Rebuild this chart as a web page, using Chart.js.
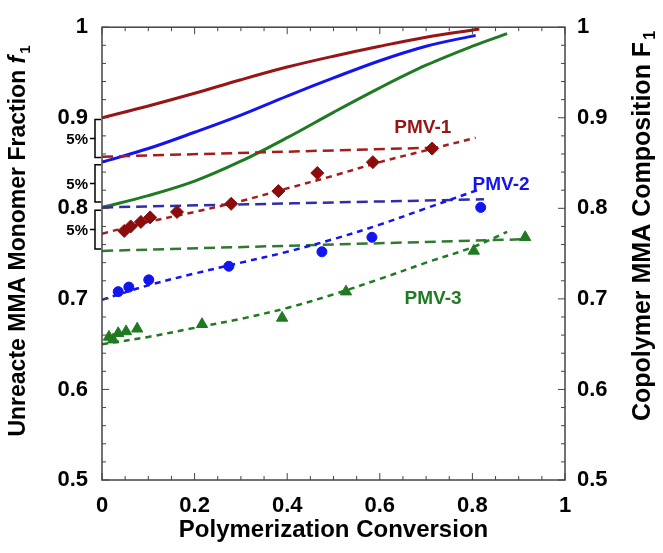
<!DOCTYPE html>
<html>
<head>
<meta charset="utf-8">
<script src="https://cdn.jsdelivr.net/npm/chart.js@4.4.0/dist/chart.umd.min.js"></script>
<style>
    body { margin: 0; background: #fff; }
    canvas { display: block; }
</style>
</head>
<body>
<canvas id="myChart" width="663" height="553"></canvas>
<script>
// tick labels
var xTickValues = [0, 0.2, 0.4, 0.6, 0.8, 1];
var xTickLabels = ['0', '0.2', '0.4', '0.6', '0.8', '1'];
var yTickValues = [0.5, 0.6, 0.7, 0.8, 0.9, 1];
var yTickLabels = ['0.5', '0.6', '0.7', '0.8', '0.9', '1'];

// PMV-1 (dark red)
var pmv1CurveX = [0, 0.1, 0.2, 0.3, 0.4, 0.5, 0.6, 0.7, 0.815];
var pmv1CurveY = [0.9, 0.913, 0.927, 0.942, 0.956, 0.968, 0.979, 0.989, 0.998];
var pmv1RefX = [0, 0.72];
var pmv1RefY = [0.857, 0.867];
var pmv1FitX = [0, 0.1, 0.2, 0.3, 0.4, 0.5, 0.6, 0.7, 0.807];
var pmv1FitY = [0.772, 0.785, 0.796, 0.808, 0.822, 0.836, 0.851, 0.864, 0.878];
var pmv1DataX = [0.048, 0.062, 0.084, 0.104, 0.162, 0.279, 0.381, 0.465, 0.585, 0.713];
var pmv1DataY = [0.775, 0.780, 0.785, 0.790, 0.796, 0.805, 0.819, 0.839, 0.851, 0.866];

// PMV-2 (blue)
var pmv2CurveX = [0, 0.1, 0.2, 0.3, 0.4, 0.5, 0.6, 0.7, 0.807];
var pmv2CurveY = [0.851, 0.866, 0.884, 0.903, 0.924, 0.944, 0.963, 0.979, 0.991];
var pmv2RefX = [0, 0.825];
var pmv2RefY = [0.801, 0.81];
var pmv2FitX = [0, 0.1, 0.2, 0.3, 0.4, 0.5, 0.6, 0.7, 0.81];
var pmv2FitY = [0.699, 0.715, 0.728, 0.740, 0.752, 0.766, 0.782, 0.800, 0.820];
var pmv2DataX = [0.035, 0.058, 0.101, 0.274, 0.475, 0.583, 0.818];
var pmv2DataY = [0.708, 0.713, 0.721, 0.736, 0.752, 0.768, 0.801];

// PMV-3 (green)
var pmv3CurveX = [0, 0.1, 0.2, 0.3, 0.4, 0.5, 0.6, 0.7, 0.8, 0.875];
var pmv3CurveY = [0.801, 0.814, 0.830, 0.852, 0.878, 0.906, 0.933, 0.958, 0.979, 0.993];
var pmv3RefX = [0, 0.922];
var pmv3RefY = [0.753, 0.766];
var pmv3FitX = [0, 0.1, 0.2, 0.3, 0.4, 0.5, 0.6, 0.7, 0.8, 0.875];
var pmv3FitY = [0.65, 0.658, 0.668, 0.678, 0.69, 0.705, 0.722, 0.740, 0.757, 0.774];
var pmv3DataX = [0.015, 0.024, 0.035, 0.052, 0.076, 0.216, 0.389, 0.527, 0.803, 0.914];
var pmv3DataY = [0.658, 0.655, 0.662, 0.664, 0.667, 0.672, 0.679, 0.708, 0.753, 0.768];

// 5% brackets on the left edge
var bracketTop = [0.898, 0.848, 0.798];
var bracketBottom = [0.856, 0.807, 0.755];
var bracketLabels = ['5%', '5%', '5%'];

var red = '#971515', blue = '#1414f0', green = '#1f7a22';
var fontFamily = '"Liberation Sans", Arial, sans-serif';

function pts(xs, ys) {
    return xs.map(function (x, i) { return {x: x, y: ys[i]}; });
}

function marks(label, xs, ys, color, style, r) {
    return {
        label: label, data: pts(xs, ys), showLine: false,
        pointStyle: style, pointRadius: r, pointHoverRadius: r,
        backgroundColor: color, borderColor: color, borderWidth: 1
    };
}

function line(label, xs, ys, color, dash, w) {
    return {
        label: label, data: pts(xs, ys), showLine: true,
        borderColor: color, borderWidth: w, borderDash: dash,
        pointRadius: 0, fill: false, tension: 0.35
    };
}

var decorations = {
    id: 'decorations',
    afterDraw: function (chart) {
        var ctx = chart.ctx, a = chart.chartArea;
        var xs = chart.scales.x, ys = chart.scales.y;
        ctx.save();
        // frame
        ctx.strokeStyle = '#444';
        ctx.lineWidth = 1.5;
        ctx.strokeRect(a.left, a.top, a.right - a.left, a.bottom - a.top);
        // inward ticks
        ctx.lineWidth = 1;
        ctx.beginPath();
        for (var i = 0; i <= 20; i++) {
            var px = xs.getPixelForValue(i * 0.05);
            var len = (i % 4 === 0) ? 7 : 4;
            ctx.moveTo(px, a.bottom); ctx.lineTo(px, a.bottom - len);
            ctx.moveTo(px, a.top); ctx.lineTo(px, a.top + len);
        }
        for (var j = 0; j <= 25; j++) {
            var py = ys.getPixelForValue(0.5 + j * 0.02);
            var l2 = (j % 5 === 0) ? 7 : 4;
            ctx.moveTo(a.left, py); ctx.lineTo(a.left + l2, py);
            ctx.moveTo(a.right, py); ctx.lineTo(a.right - l2, py);
        }
        ctx.stroke();

        // brackets
        ctx.strokeStyle = '#000';
        ctx.lineWidth = 1.5;
        ctx.fillStyle = '#000';
        ctx.font = 'bold 15px ' + fontFamily;
        ctx.textAlign = 'right';
        ctx.textBaseline = 'middle';
        for (var k = 0; k < bracketTop.length; k++) {
            var t = ys.getPixelForValue(bracketTop[k]);
            var b = ys.getPixelForValue(bracketBottom[k]);
            var m = (t + b) / 2;
            ctx.beginPath();
            ctx.moveTo(a.left - 1, t); ctx.lineTo(a.left - 7, t);
            ctx.lineTo(a.left - 7, b); ctx.lineTo(a.left - 1, b);
            ctx.moveTo(a.left - 7, m); ctx.lineTo(a.left - 12, m);
            ctx.stroke();
            ctx.fillText(bracketLabels[k], a.left - 14, m + 1);
        }

        // series labels
        ctx.font = 'bold 19px ' + fontFamily;
        ctx.textAlign = 'center';
        ctx.fillStyle = red;
        ctx.fillText('PMV-1', xs.getPixelForValue(0.693), ys.getPixelForValue(0.889));
        ctx.fillStyle = blue;
        ctx.fillText('PMV-2', xs.getPixelForValue(0.862), ys.getPixelForValue(0.826));
        ctx.fillStyle = green;
        ctx.fillText('PMV-3', xs.getPixelForValue(0.715), ys.getPixelForValue(0.700));

        // y titles with subscript
        drawTitle(ctx, 19, 241, 23, 'Unreacte MMA Monomer Fraction ', 'f', true);
        drawTitle(ctx, 643, 226, 25, 'Copolymer MMA Composition ', 'F', false);
        ctx.restore();
    }
};

function drawTitle(ctx, cx, cy, size, main, sym, italic) {
    var f1 = 'bold ' + size + 'px ' + fontFamily;
    var f2 = (italic ? 'italic ' : '') + f1;
    var f3 = 'bold ' + Math.round(size * 0.65) + 'px ' + fontFamily;
    ctx.save();
    ctx.translate(cx, cy);
    ctx.rotate(-Math.PI / 2);
    ctx.fillStyle = '#000';
    ctx.textAlign = 'left';
    ctx.textBaseline = 'middle';
    ctx.font = f1; var w1 = ctx.measureText(main).width;
    ctx.font = f2; var w2 = ctx.measureText(sym).width;
    ctx.font = f3; var w3 = ctx.measureText('1').width;
    var x0 = -(w1 + w2 + w3 + 2) / 2;
    ctx.font = f1; ctx.fillText(main, x0, 0);
    ctx.font = f2; ctx.fillText(sym, x0 + w1, 0);
    ctx.font = f3; ctx.fillText('1', x0 + w1 + w2 + 2, size * 0.3);
    ctx.restore();
}

var tickFont = {family: fontFamily, size: 22, weight: 'bold'};

var myChart = new Chart(document.getElementById('myChart'), {
    type: 'scatter',
    data: {
        datasets: [
            marks('PMV-1 data', pmv1DataX, pmv1DataY, '#8a0c0c', 'rectRot', 6.5),
            marks('PMV-2 data', pmv2DataX, pmv2DataY, blue, 'circle', 5),
            marks('PMV-3 data', pmv3DataX, pmv3DataY, green, 'triangle', 6.5),
            line('PMV-1 fit', pmv1FitX, pmv1FitY, '#a51c1c', [6, 5], 2.5),
            line('PMV-2 fit', pmv2FitX, pmv2FitY, blue, [6, 5], 2.5),
            line('PMV-3 fit', pmv3FitX, pmv3FitY, green, [6, 5], 2.5),
            line('PMV-1 ref', pmv1RefX, pmv1RefY, '#a51c1c', [11, 6], 2.5),
            line('PMV-2 ref', pmv2RefX, pmv2RefY, '#2e2ea8', [11, 6], 2.5),
            line('PMV-3 ref', pmv3RefX, pmv3RefY, '#2f7a2f', [11, 6], 2.5),
            line('PMV-1 f1', pmv1CurveX, pmv1CurveY, red, [], 3),
            line('PMV-2 f1', pmv2CurveX, pmv2CurveY, blue, [], 3),
            line('PMV-3 f1', pmv3CurveX, pmv3CurveY, green, [], 3)
        ]
    },
    options: {
        responsive: false,
        animation: false,
        layout: {padding: {top: 20, left: 0, right: 0, bottom: 0}},
        plugins: {legend: {display: false}, tooltip: {enabled: false}},
        scales: {
            x: {
                type: 'linear', min: 0, max: 1, position: 'bottom',
                grid: {display: false, drawTicks: false},
                border: {display: false},
                afterBuildTicks: function (s) { s.ticks = xTickValues.map(function (v) { return {value: v}; }); },
                afterFit: function (s) { s.height = 73; },
                ticks: {
                    font: tickFont, color: '#000', padding: 13, maxRotation: 0,
                    callback: function (v, i) { return xTickLabels[i]; }
                },
                title: {
                    display: true, text: 'Polymerization Conversion', color: '#000',
                    font: {family: fontFamily, size: 24, weight: 'bold'},
                    padding: {top: 0, bottom: 8}
                }
            },
            y: {
                type: 'linear', min: 0.5, max: 1, position: 'left',
                grid: {display: false, drawTicks: false},
                border: {display: false},
                afterBuildTicks: function (s) { s.ticks = yTickValues.map(function (v) { return {value: v}; }); },
                afterFit: function (s) { s.width = 102; },
                ticks: {
                    font: tickFont, color: '#000', padding: 14,
                    callback: function (v, i) { return yTickLabels[i]; }
                }
            },
            y2: {
                type: 'linear', min: 0.5, max: 1, position: 'right',
                grid: {display: false, drawTicks: false},
                border: {display: false},
                afterBuildTicks: function (s) { s.ticks = yTickValues.map(function (v) { return {value: v}; }); },
                afterFit: function (s) { s.width = 98; },
                ticks: {
                    font: tickFont, color: '#000', padding: 12,
                    callback: function (v, i) { return yTickLabels[i]; }
                }
            }
        }
    },
    plugins: [decorations]
});
</script>
</body>
</html>
